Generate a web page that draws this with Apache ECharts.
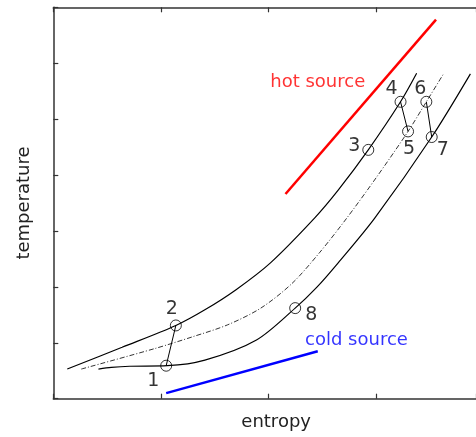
<!DOCTYPE html>
<html>
<head>
<meta charset="utf-8">
<script src="https://cdn.jsdelivr.net/npm/echarts@6/dist/echarts.min.js"></script>
<style>html,body{margin:0;padding:0;background:#fff}#c{width:476px;height:437px}</style>
</head>
<body>
<div id="c"></div>
<script>
// High-pressure isobar
const sUpper = [0.13, 0.64, 1.14, 1.41, 1.70, 2.02, 2.43, 2.65, 2.93, 3.23, 3.38];
const tUpper = [0.53, 0.92, 1.31, 1.59, 1.95, 2.43, 3.23, 3.73, 4.45, 5.31, 5.82];
// Intermediate-pressure isobar (dash-dot)
const sMid = [0.26, 0.95, 1.30, 1.62, 1.93, 2.22, 2.48, 2.73, 3.01, 3.30, 3.47, 3.63];
const tMid = [0.53, 0.90, 1.11, 1.32, 1.62, 2.06, 2.62, 3.23, 3.97, 4.78, 5.31, 5.81];
// Low-pressure isobar
const sLower = [0.42, 0.54, 0.71, 1.06, 1.41, 1.89, 2.25, 2.45, 2.65, 2.99, 3.52, 3.88];
const tLower = [0.53, 0.56, 0.58, 0.59, 0.69, 1.05, 1.62, 1.99, 2.43, 3.23, 4.68, 5.81];
// Cycle state points
const stateNames = ['1', '2', '3', '4', '5', '6', '7', '8'];
const stateS = [1.05, 1.14, 2.93, 3.23, 3.30, 3.47, 3.52, 2.25];
const stateT = [0.59, 1.31, 4.45, 5.31, 4.78, 5.31, 4.68, 1.62];
// Processes drawn as straight segments (pairs of state indices)
const segments = [[0, 1], [3, 4], [5, 6]];
// Heat sources
const hotS = [2.16, 3.56];
const hotT = [3.66, 6.78];
const coldS = [1.05, 2.46];
const coldT = [0.10, 0.85];
const hotLabel = {text: 'hot source', s: 2.46, t: 5.65};
const coldLabel = {text: 'cold source', s: 2.82, t: 1.05};
const xTitle = 'entropy';
const yTitle = 'temperature';

// label offsets (style only)
const labelOffsets = [[-13, 15], [-4, -16], [-14, -4], [-9, -13], [1, 18], [-6, -13], [11, 13], [16, 7]];

const zip = (a, b) => a.map((v, i) => [v, b[i]]);
const FONT = 'DejaVu Sans';
const SMOOTH = 0.3;

const series = [];
series.push({type: 'line', data: zip(sUpper, tUpper), showSymbol: false, smooth: SMOOTH,
  lineStyle: {color: '#000', width: 1.2}, z: 2});
series.push({type: 'line', data: zip(sMid, tMid), showSymbol: false, smooth: SMOOTH,
  lineStyle: {color: '#000', width: 0.8, type: [5, 2, 1, 2]}, z: 2});
series.push({type: 'line', data: zip(sLower, tLower), showSymbol: false, smooth: SMOOTH,
  lineStyle: {color: '#000', width: 1.2}, z: 2});
segments.forEach(([a, b]) => {
  series.push({type: 'line', data: [[stateS[a], stateT[a]], [stateS[b], stateT[b]]], showSymbol: false,
    lineStyle: {color: '#000', width: 1}, z: 3});
});
series.push({type: 'line', data: zip(hotS, hotT), showSymbol: false, lineStyle: {color: '#ff0000', width: 2.5}, z: 2});
series.push({type: 'line', data: zip(coldS, coldT), showSymbol: false, lineStyle: {color: '#0000ff', width: 2.5}, z: 2});
series.push({
  type: 'scatter', z: 5,
  data: stateNames.map((n, i) => ({
    value: [stateS[i], stateT[i]], name: n,
    label: {show: true, formatter: n, position: 'inside', offset: labelOffsets[i], color: '#000', fontSize: 19, fontFamily: FONT}
  })),
  symbol: 'circle', symbolSize: 11,
  itemStyle: {color: 'rgba(255,255,255,0)', borderColor: '#000', borderWidth: 1}
});
[[hotLabel, '#ff0000'], [coldLabel, '#0000ff']].forEach(([l, c]) => {
  series.push({type: 'scatter', z: 5, symbolSize: 0, silent: true,
    data: [{value: [l.s, l.t], label: {show: true, position: 'inside', formatter: l.text, color: c, fontSize: 18, fontFamily: FONT}}]});
});

const axisCommon = {
  type: 'value', min: 0, max: 3.932, interval: 1,
  axisLine: {show: true, onZero: false, lineStyle: {color: '#333', width: 1.5}},
  axisTick: {show: true, inside: true, length: 5, lineStyle: {color: '#333', width: 1.2}},
  axisLabel: {show: false}, splitLine: {show: false}
};

const chart = echarts.init(document.getElementById('c'), null, {renderer: 'canvas'});
chart.setOption({
  animation: false,
  backgroundColor: '#fff',
  grid: {left: 53.3, top: 7.3, width: 422.7, height: 391.4, containLabel: false},
  xAxis: [
    Object.assign({}, axisCommon, {position: 'bottom', name: xTitle, nameLocation: 'middle', nameGap: 15,
      nameTextStyle: {fontFamily: FONT, fontSize: 18, color: '#222', verticalAlign: 'top', padding: [0, 0, 0, 23]}}),
    Object.assign({}, axisCommon, {position: 'top'})
  ],
  yAxis: [{
    type: 'value', min: 0, max: 7, interval: 1, position: 'left',
    axisLine: {show: true, onZero: false, lineStyle: {color: '#333', width: 1.5}},
    axisTick: {show: true, inside: true, length: 5, lineStyle: {color: '#333', width: 1.2}},
    axisLabel: {show: false}, splitLine: {show: false},
    name: yTitle, nameLocation: 'middle', nameGap: 20,
    nameTextStyle: {fontFamily: FONT, fontSize: 18, color: '#222'}
  }],
  series: series
});
</script>
</body>
</html>
